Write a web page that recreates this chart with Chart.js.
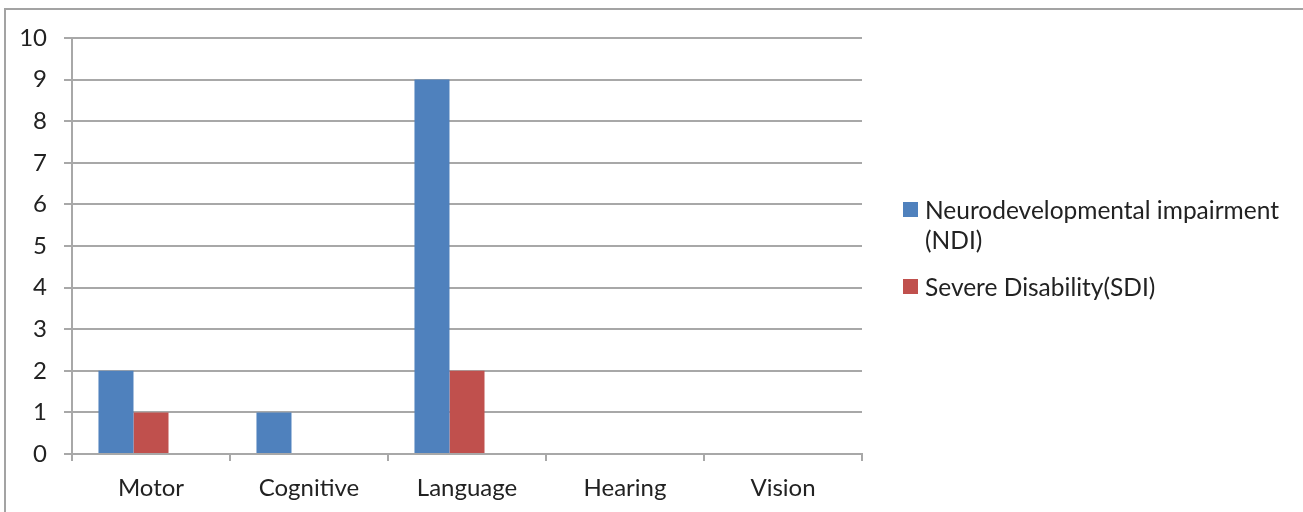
<!DOCTYPE html>
<html>
<head>
<meta charset="utf-8">
<script src="https://cdn.jsdelivr.net/npm/chart.js@4"></script>
<style>
  html, body { margin: 0; padding: 0; background: #fff; }
  #wrap { position: relative; width: 1303px; height: 512px; overflow: hidden; }
  #frame { position: absolute; left: 4px; top: 8px; right: -10px; bottom: -10px;
           border-top: 2px solid #a3a3a3; border-left: 2px solid #a3a3a3; }
  canvas { position: absolute; left: 0; top: 0; }
  .leg { position: absolute; font-family: Lato, sans-serif; font-size: 24.5px; color: #222; line-height: 30px; }
  .leg i { position: absolute; width: 15px; height: 15px; left: 0; }
  .leg span { position: absolute; left: 22px; top: 0; white-space: nowrap; }
</style>
</head>
<body>
<div id="wrap">
  <div id="frame"></div>
  <canvas id="chart1" width="1303" height="512"></canvas>
  <div class="leg" style="left:903px; top:195px;">
    <i id="box0" style="top:7px;"></i><span id="lab0"></span>
  </div>
  <div class="leg" style="left:903px; top:272px;">
    <i id="box1" style="top:7px;"></i><span id="lab1"></span>
  </div>
</div>
<script>
const categories = ['Motor', 'Cognitive', 'Language', 'Hearing', 'Vision'];
const ndiValues = [2, 1, 9, 0, 0];
const sdiValues = [1, 0, 2, 0, 0];
const emptyValues = [null, null, null, null, null]; // third (blank) series slot
const seriesNames = ['Neurodevelopmental impairment', 'Severe Disability(SDI)'];
const yTicks = [0, 1, 2, 3, 4, 5, 6, 7, 8, 9, 10];

const blue = '#4f81bd';
const red = '#c0504d';
const gridColor = '#a8a8a8';

document.getElementById('box0').style.background = blue;
document.getElementById('box1').style.background = red;
document.getElementById('lab0').innerHTML = seriesNames[0] + '<br>(NDI)';
document.getElementById('lab1').textContent = seriesNames[1];

Chart.defaults.font.family = 'Lato, sans-serif';
Chart.defaults.font.size = 24;
Chart.defaults.color = '#222';

var ctx = document.getElementById('chart1').getContext('2d');

new Chart(ctx, {
  type: 'bar',
  data: {
    labels: categories,
    datasets: [
      { data: ndiValues, backgroundColor: blue },
      { data: sdiValues, backgroundColor: red },
      { data: emptyValues, backgroundColor: 'transparent' }
    ]
  },
  options: {
    responsive: false,
    animation: false,
    layout: {
      padding: { left: 0, top: 38, right: 441, bottom: 0 }
    },
    plugins: {
      legend: { display: false },
      tooltip: { enabled: false }
    },
    datasets: {
      bar: {
        categoryPercentage: 0.665,
        barPercentage: 1
      }
    },
    scales: {
      x: {
        grid: {
          display: true,
          drawOnChartArea: false,
          drawTicks: true,
          tickLength: 7,
          color: gridColor,
          lineWidth: 2
        },
        border: { display: true, color: gridColor, width: 2 },
        ticks: { padding: 13 },
        afterFit: (s) => { s.height = 58; }
      },
      y: {
        min: 0,
        max: 10,
        afterBuildTicks: (s) => { s.ticks = yTicks.map(v => ({ value: v })); },
        grid: {
          color: gridColor,
          lineWidth: 2,
          tickLength: 8
        },
        border: { display: true, color: gridColor, width: 2 },
        ticks: { padding: 17 },
        afterFit: (s) => { s.width = 72; }
      }
    }
  }
});
</script>
</body>
</html>
